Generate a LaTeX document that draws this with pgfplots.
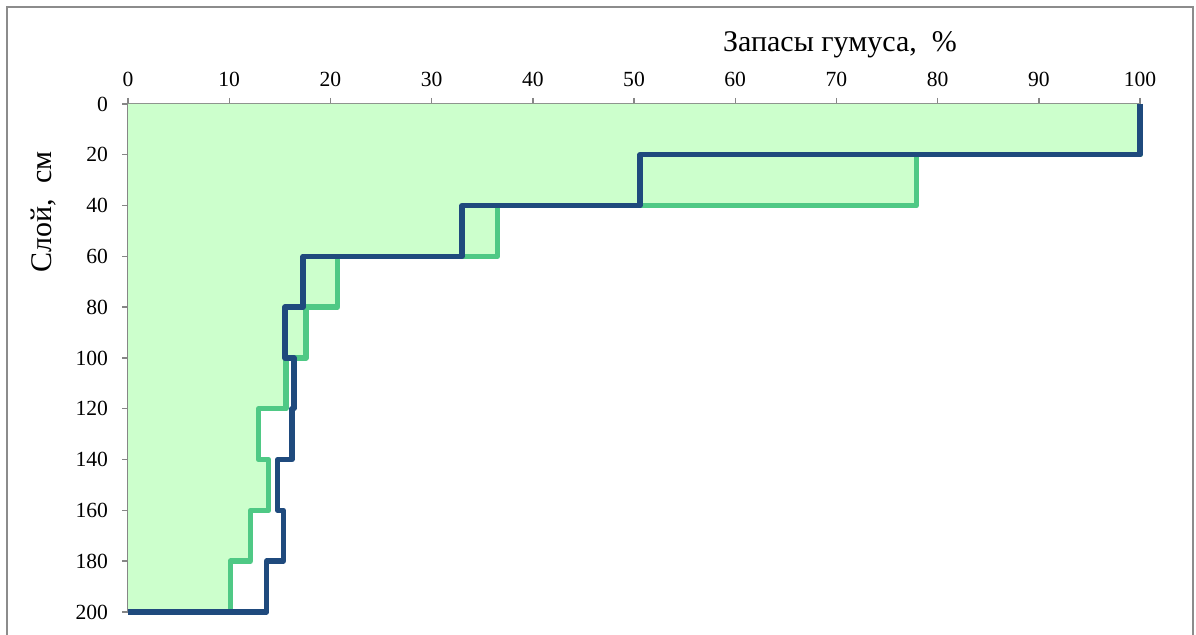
\documentclass[border=0pt]{standalone}
\usepackage{pgfplots}
\pgfplotsset{compat=1.18}
\usepackage{fontspec}
\setmainfont{Liberation Serif}
\definecolor{frame}{RGB}{140,140,140}
\definecolor{axgray}{RGB}{134,134,134}
\definecolor{fillgreen}{RGB}{204,255,204}
\definecolor{linegreen}{RGB}{79,201,133}
\definecolor{lineblue}{RGB}{31,74,125}
\begin{document}
\begin{tikzpicture}
\useasboundingbox (0,0) rectangle (598pt,317.5pt);
\draw[frame, line width=1pt] (3.5pt,-3pt) -- (3.5pt,314pt) -- (596.5pt,314pt) -- (596.5pt,-3pt);
\begin{axis}[
  at={(64pt,265.5pt)}, anchor=north west,
  scale only axis, width=506pt, height=254pt,
  xmin=0, xmax=100, ymin=0, ymax=200, y dir=reverse,
  axis x line*=top, axis y line*=left,
  axis line style={axgray, line width=0.8pt},
  xtick={0,10,...,100}, ytick={0,20,...,200},
  tick align=outside, major tick length=3pt,
  tick style={axgray, line width=0.7pt},
  ticklabel style={font=\fontsize{10.8}{12}\selectfont},
  yticklabel style={xshift=-3.5pt},
  xticklabel style={yshift=2pt},
  /pgf/number format/assume math mode=true,
  clip=false,
]
\addplot[fill=fillgreen, draw=none] coordinates {
 (0,0) (100,0) (100,20) (77.9,20) (77.9,40) (36.5,40) (36.5,60) (20.7,60) (20.7,80)
 (17.6,80) (17.6,100) (15.6,100) (15.6,120) (12.9,120) (12.9,140) (13.9,140) (13.9,160)
 (12.1,160) (12.1,180) (10.1,180) (10.1,200) (0,200)} -- cycle;
\addplot[linegreen, line width=2.7pt, line join=round] coordinates {
 (100,0) (100,20) (77.9,20) (77.9,40) (36.5,40) (36.5,60) (20.7,60) (20.7,80)
 (17.6,80) (17.6,100) (15.6,100) (15.6,120) (12.9,120) (12.9,140) (13.9,140) (13.9,160)
 (12.1,160) (12.1,180) (10.1,180) (10.1,200) (0,200)};
\addplot[lineblue, line width=2.7pt, line join=round] coordinates {
 (100,0) (100,20) (50.6,20) (50.6,40) (33,40) (33,60) (17.3,60) (17.3,80)
 (15.5,80) (15.5,100) (16.4,100) (16.4,120) (16.2,120) (16.2,140) (14.8,140) (14.8,160)
 (15.35,160) (15.35,180) (13.7,180) (13.7,200) (0,200)};
\end{axis}
\node[anchor=base, font=\fontsize{15}{17}\selectfont] at (420pt,291.5pt) {Запасы гумуса,\ \ \%};
\node[anchor=base, rotate=90, font=\fontsize{15}{17}\selectfont] at (25.9pt,211.5pt) {Слой,\ \ см};
\end{tikzpicture}
\end{document}
